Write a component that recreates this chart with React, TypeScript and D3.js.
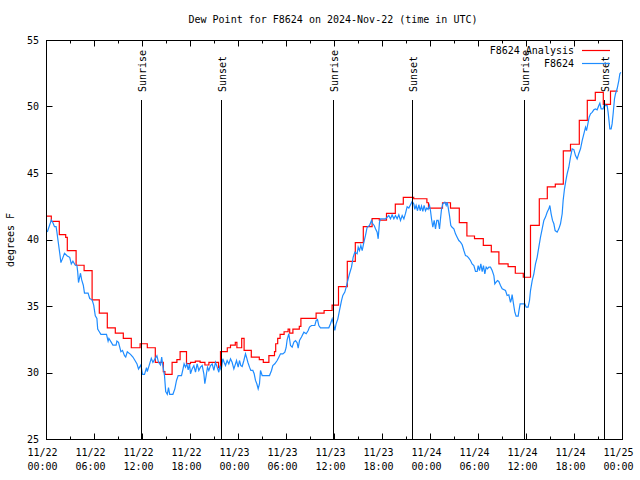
import React from 'react';
import * as d3 from 'd3';

const TITLE = 'Dew Point for F8624 on 2024-Nov-22 (time in UTC)';
const Y_LABEL = 'degrees F';
const Y_TICKS = [25, 30, 35, 40, 45, 50, 55];
const X_MAJOR_HOURS = [0, 6, 12, 18, 24, 30, 36, 42, 48, 54, 60, 66, 72];
const X_MINOR_HOURS = [3, 9, 15, 21, 27, 33, 39, 45, 51, 57, 63, 69];
const X_TICK_DATES = ['11/22', '11/22', '11/22', '11/22', '11/23', '11/23', '11/23', '11/23', '11/24', '11/24', '11/24', '11/24', '11/25'];
const X_TICK_TIMES = ['00:00', '06:00', '12:00', '18:00', '00:00', '06:00', '12:00', '18:00', '00:00', '06:00', '12:00', '18:00', '00:00'];
const SUN_HOURS = [11.9, 21.85, 35.9, 45.8, 59.8, 69.8];
const SUN_LABELS = ['Sunrise', 'Sunset', 'Sunrise', 'Sunset', 'Sunrise', 'Sunset'];
const SERIES_NAMES = ['F8624 Analysis', 'F8624'];
const SERIES_COLORS = ['#ff0000', '#1e8cff'];

// hours since 11/22 00:00 UTC, dew point (F) — hourly analysis (step)
const ANALYSIS: [number, number][] = [
  [0, 41.8], [0.6, 41.4], [1.6, 40.4], [2.4, 40.2], [2.6, 39.2], [3.7, 38.1], [4.7, 37.7],
  [5.7, 35.5], [6.6, 34.5], [7.6, 33.4], [8.6, 33.0], [9.6, 32.6], [10.6, 31.9], [11.7, 32.2],
  [12.6, 31.9], [13.6, 30.8], [14.6, 30.1], [14.8, 29.9], [15.7, 30.8], [16.3, 31.0], [16.7, 31.6],
  [17.5, 30.7], [18.0, 30.8], [18.6, 30.9], [19.2, 30.8], [19.8, 30.6], [20.3, 30.8], [21.5, 30.4],
  [21.75, 31.6], [22.6, 31.9], [23.0, 32.1], [23.6, 32.3], [23.8, 31.9], [24.4, 32.6], [24.7, 31.7],
  [25.6, 31.2], [26.6, 31.0], [27.1, 30.8], [27.8, 31.3], [28.5, 31.6], [28.65, 32.2], [28.9, 32.6],
  [29.2, 32.9], [29.7, 33.1], [30.2, 33.3], [30.4, 33.0], [30.8, 33.3], [31.6, 33.5], [31.8, 34.1],
  [33.7, 34.5], [34.7, 34.7], [35.7, 35.1], [36.5, 36.5], [37.6, 38.4], [38.6, 39.8], [39.6, 41.0],
  [40.7, 41.6], [41.6, 41.5], [42.5, 42.0], [43.6, 42.7], [44.6, 43.2], [45.9, 43.1], [47.55, 42.8],
  [47.75, 42.4], [49.5, 42.8], [50.5, 42.4], [51.6, 41.3], [52.55, 40.3], [53.5, 40.1], [54.6, 39.6],
  [55.6, 39.1], [56.55, 38.2], [57.7, 38.0], [58.6, 37.5], [59.6, 37.2], [60.5, 41.1], [61.6, 43.1],
  [62.6, 44.0], [63.6, 44.2], [64.6, 46.7], [65.5, 47.2], [66.6, 49.0], [67.6, 50.5], [68.6, 51.1],
  [69.6, 50.2], [70.5, 51.2], [71.4, 51.2],
];

// station observations
const OBSERVED: [number, number][] = [
  [0.1, 40.6], [0.6, 41.5], [0.8, 41.3], [1.0, 41.0], [1.2, 41.0], [1.3, 40.6], [1.5, 39.7], [1.7, 38.8],
  [1.8, 38.3], [2.0, 38.6], [2.25, 39.0], [2.6, 38.8], [2.9, 38.7], [3.1, 38.2], [3.3, 38.4], [3.6, 38.1],
  [3.8, 38.1], [3.9, 37.6], [4.0, 36.8], [4.25, 37.5], [4.4, 37.0], [4.6, 36.6], [4.75, 36.0], [5.2, 36.0],
  [5.4, 35.6], [5.7, 35.5], [5.9, 35.1], [6.1, 34.3], [6.3, 34.1], [6.4, 33.3], [6.6, 33.1], [6.8, 32.9],
  [7.5, 32.9], [7.7, 32.4], [7.8, 32.6], [8.1, 32.3], [8.3, 32.1], [8.7, 32.1], [8.8, 32.4], [9.0, 32.3],
  [9.3, 31.6], [9.5, 31.7], [9.75, 31.3], [9.9, 31.2], [10.1, 31.6], [10.5, 31.4], [10.8, 31.2], [11.1, 30.9],
  [11.3, 30.7], [11.5, 30.3], [11.6, 30.4], [11.8, 30.6], [12.0, 29.9], [12.25, 29.9], [12.5, 30.4],
  [12.6, 30.1], [12.9, 30.7], [13.1, 31.1], [13.3, 30.8], [13.6, 31.1], [13.8, 31.3], [14.0, 30.8],
  [14.25, 30.6], [14.4, 31.2], [14.5, 30.7], [14.75, 29.8], [14.9, 28.6], [15.1, 28.4], [15.25, 28.9],
  [15.4, 28.4], [15.8, 28.4], [16.04, 28.81], [16.25, 29.44], [16.46, 29.81], [16.875, 29.81], [17.04, 30.24],
  [17.2, 30.69], [17.375, 30.44], [17.54, 30.69], [17.71, 30.24], [17.875, 30.69], [18.0, 29.94], [18.2, 30.31],
  [18.42, 30.56], [18.625, 30.06], [18.83, 30.69], [19.04, 30.19], [19.25, 30.44], [19.46, 30.56], [19.67, 29.94],
  [19.79, 29.19], [19.96, 29.81], [20.125, 30.44], [20.29, 30.19], [20.5, 30.56], [20.71, 30.69], [20.92, 30.19],
  [21.125, 30.81], [21.33, 30.44], [21.54, 30.06], [21.67, 30.56], [21.83, 30.19], [22.04, 31.07], [22.2, 30.81],
  [22.375, 30.56], [22.58, 30.94], [22.79, 30.69], [23.0, 31.07], [23.2, 30.81], [23.42, 30.31], [23.625, 30.69],
  [23.75, 30.94], [23.96, 30.44], [24.125, 30.94], [24.29, 30.56], [24.46, 30.49], [24.67, 30.94], [24.875, 31.44],
  [25.0, 31.19], [25.17, 30.81], [25.375, 30.44], [25.54, 30.19], [25.79, 30.19], [25.96, 29.94], [26.125, 29.44],
  [26.29, 29.19], [26.46, 28.81], [26.625, 29.19], [26.75, 30.19], [26.96, 29.81], [27.875, 29.81], [28.125, 30.19],
  [28.29, 30.56], [28.54, 30.69], [28.83, 30.94], [29.04, 31.19], [29.25, 31.44], [29.54, 31.44], [29.79, 31.57],
  [29.95, 31.9], [30.08, 32.5], [30.29, 32.95], [30.5, 32.07], [30.71, 31.94], [30.92, 32.32], [31.125, 32.44],
  [31.33, 32.27], [31.46, 31.87], [31.625, 32.44], [31.875, 32.7], [32.17, 33.07], [32.46, 32.95], [32.71, 33.2],
  [32.875, 33.45], [33.125, 33.57], [33.54, 33.57], [33.71, 33.95], [33.875, 34.02], [34.04, 33.57], [34.25, 33.4],
  [35.29, 33.4], [35.5, 33.7], [35.71, 34.07], [35.92, 33.57], [36.04, 33.2], [36.2, 33.7], [36.42, 34.07],
  [36.625, 34.7], [36.875, 35.45], [37.04, 35.83], [37.29, 36.08], [37.46, 36.45], [37.71, 37.08], [37.875, 37.46],
  [38.125, 37.96], [38.33, 38.7], [38.54, 39.08], [38.83, 38.96], [38.96, 39.46], [39.125, 39.2], [39.29, 39.59],
  [39.46, 39.2], [39.67, 39.83], [39.875, 40.34], [40.08, 40.96], [40.375, 41.09], [40.625, 41.47], [40.79, 41.22],
  [40.96, 41.09], [41.125, 40.84], [41.33, 40.59], [41.46, 40.09], [41.625, 41.34], [41.75, 41.59], [42.375, 41.59],
  [42.58, 41.71], [42.79, 41.84], [43.0, 41.59], [43.2, 41.89], [43.42, 41.59], [43.625, 41.84], [43.83, 41.59],
  [44.04, 41.89], [44.25, 41.47], [44.46, 41.84], [44.67, 41.59], [44.875, 42.0], [45.08, 42.5], [45.29, 42.4],
  [45.5, 42.65], [45.71, 42.9], [45.92, 42.7], [46.04, 42.3], [46.2, 42.6], [46.375, 42.2], [46.54, 42.65],
  [46.71, 42.2], [46.875, 42.55], [47.04, 42.15], [47.2, 42.6], [47.375, 42.2], [47.54, 42.4], [47.7, 42.3],
  [47.875, 42.6], [48.0, 42.2], [48.125, 41.6], [48.29, 40.96], [48.46, 41.47], [48.625, 40.84], [48.79, 41.47],
  [48.96, 41.47], [49.125, 40.84], [49.25, 41.6], [49.375, 42.3], [49.54, 42.72], [49.79, 42.84], [49.96, 42.6],
  [50.08, 42.84], [50.2, 42.47], [50.375, 41.84], [50.54, 41.09], [50.7, 40.96], [50.92, 40.84], [51.125, 40.46],
  [51.33, 40.21], [51.54, 39.96], [51.75, 39.84], [51.96, 39.64], [52.17, 39.21], [52.375, 38.83], [52.58, 38.78],
  [52.79, 38.63], [53.0, 38.46], [53.2, 38.2], [53.42, 38.08], [53.625, 37.63], [53.83, 37.63], [53.96, 38.08],
  [54.125, 37.7], [54.29, 38.2], [54.46, 37.63], [54.625, 38.08], [54.79, 37.46], [54.96, 37.96], [55.125, 37.83],
  [55.29, 37.96], [55.5, 37.96], [55.71, 37.7], [55.92, 37.33], [56.04, 36.7], [56.2, 36.83], [56.375, 36.95],
  [56.54, 36.88], [56.75, 36.58], [56.96, 36.33], [57.375, 36.2], [57.58, 35.83], [57.79, 35.88], [58.0, 35.32],
  [58.125, 35.58], [58.2, 35.9], [58.375, 35.2], [58.54, 34.57], [58.7, 34.27], [58.96, 34.27], [59.04, 34.62],
  [59.2, 35.2], [59.79, 35.2], [59.96, 34.95], [60.2, 34.95], [60.375, 35.45], [60.5, 36.2], [60.71, 36.95],
  [60.92, 37.46], [61.125, 38.2], [61.33, 38.7], [61.54, 39.46], [61.75, 40.21], [61.96, 40.84], [62.17, 41.47],
  [62.375, 41.72], [62.58, 42.09], [62.79, 42.34], [62.92, 42.59], [63.08, 41.97], [63.25, 41.47], [63.42, 41.22],
  [63.58, 40.71], [63.83, 40.59], [64.04, 40.84], [64.25, 41.22], [64.46, 41.97], [64.58, 42.97], [64.75, 43.85],
  [64.92, 44.47], [65.08, 44.98], [65.29, 45.47], [65.5, 46.23], [65.71, 46.86], [65.92, 46.8], [66.125, 46.35],
  [66.33, 46.1], [66.54, 46.5], [66.75, 46.86], [66.96, 47.48], [67.17, 47.98], [67.375, 48.48], [67.5, 48.23],
  [67.67, 48.73], [67.83, 49.23], [68.0, 49.49], [68.2, 49.6], [68.42, 49.79], [68.625, 49.86], [68.83, 49.79],
  [69.04, 50.11], [69.17, 50.29], [69.33, 49.86], [69.58, 49.86], [69.75, 50.24], [69.875, 50.11], [70.08, 50.11],
  [70.2, 49.61], [70.42, 48.36], [70.58, 48.36], [70.7, 48.73], [70.83, 49.49], [71.0, 50.62], [71.125, 51.0],
  [71.33, 51.37], [71.54, 51.99], [71.67, 52.5], [71.8, 52.6],
];

const W = 640;
const H = 480;
const LEFT = 46.5;
const RIGHT = 622.5;
const TOP = 40.5;
const BOTTOM = 439.5;
const FONT = '"DejaVu Sans Mono", "Liberation Mono", monospace';

export default function App() {
  const x = d3.scaleLinear().domain([0, 72]).range([LEFT, RIGHT]);
  const y = d3.scaleLinear().domain([25, 55]).range([BOTTOM, TOP]);

  const stepLine = d3
    .line<[number, number]>()
    .x((d) => x(d[0]))
    .y((d) => y(d[1]))
    .curve(d3.curveStepAfter);
  const obsLine = d3
    .line<[number, number]>()
    .x((d) => x(d[0]))
    .y((d) => y(d[1]));

  return (
    <svg
      width={W}
      height={H}
      viewBox={`0 0 ${W} ${H}`}
      style={{ position: 'absolute', left: 0, top: 0, background: '#fff', fontFamily: FONT }}
    >
      <rect x={0} y={0} width={W} height={H} fill="#fff" />
      <defs>
        <clipPath id="plot-clip">
          <rect x={LEFT} y={TOP} width={RIGHT - LEFT} height={BOTTOM - TOP} />
        </clipPath>
      </defs>

      {/* title */}
      <text x={333} y={20} textAnchor="middle" dominantBaseline="middle" fontSize={10} fill="#000">
        {TITLE}
      </text>

      {/* y label */}
      <text
        transform={`translate(11, ${(TOP + BOTTOM) / 2}) rotate(-90)`}
        textAnchor="middle"
        dominantBaseline="middle"
        fontSize={10}
        fill="#000"
      >
        {Y_LABEL}
      </text>

      {/* y ticks */}
      {Y_TICKS.map((t) => (
        <g key={`yt${t}`}>
          <line x1={LEFT} x2={LEFT + 6} y1={Math.round(y(t) - 0.5) + 0.5} y2={Math.round(y(t) - 0.5) + 0.5} stroke="#000" />
          <line x1={RIGHT} x2={RIGHT - 6} y1={Math.round(y(t) - 0.5) + 0.5} y2={Math.round(y(t) - 0.5) + 0.5} stroke="#000" />
          <text x={39} y={y(t)} textAnchor="end" dominantBaseline="middle" fontSize={10} fill="#000">
            {t}
          </text>
        </g>
      ))}

      {/* x ticks */}
      {X_MAJOR_HOURS.map((h, i) => (
        <g key={`xt${h}`}>
          <line x1={x(h)} x2={x(h)} y1={BOTTOM} y2={BOTTOM - 6} stroke="#000" />
          <line x1={x(h)} x2={x(h)} y1={TOP} y2={TOP + 6} stroke="#000" />
          <text x={x(h) - 4} y={453} textAnchor="middle" dominantBaseline="middle" fontSize={10} fill="#000">
            {X_TICK_DATES[i]}
          </text>
          <text x={x(h) - 4} y={467} textAnchor="middle" dominantBaseline="middle" fontSize={10} fill="#000">
            {X_TICK_TIMES[i]}
          </text>
        </g>
      ))}
      {X_MINOR_HOURS.map((h) => (
        <g key={`xm${h}`}>
          <line x1={x(h)} x2={x(h)} y1={BOTTOM} y2={BOTTOM - 3} stroke="#000" />
          <line x1={x(h)} x2={x(h)} y1={TOP} y2={TOP + 3} stroke="#000" />
        </g>
      ))}

      {/* data */}
      <g clipPath="url(#plot-clip)">
        <path d={stepLine(ANALYSIS) || ''} fill="none" stroke={SERIES_COLORS[0]} strokeWidth={1.2} />
        <path d={obsLine(OBSERVED) || ''} fill="none" stroke={SERIES_COLORS[1]} strokeWidth={1.2} />
      </g>

      {/* sunrise / sunset */}
      {SUN_HOURS.map((h, i) => {
        const sx = Math.round(x(h) - 0.5) + 0.5;
        return (
          <g key={`sun${i}`}>
            <line x1={sx} x2={sx} y1={100} y2={BOTTOM} stroke="#000" />
            <text
              transform={`translate(${sx + 4}, 92) rotate(-90)`}
              textAnchor="start"
              fontSize={10}
              fill="#000"
            >
              {SUN_LABELS[i]}
            </text>
          </g>
        );
      })}

      {/* legend */}
      {SERIES_NAMES.map((name, i) => {
        const ly = 50.5 + i * 13;
        return (
          <g key={`lg${i}`}>
            <text x={574} y={ly} textAnchor="end" dominantBaseline="middle" fontSize={10} fill="#000">
              {name}
            </text>
            <line x1={582} x2={610} y1={ly} y2={ly} stroke={SERIES_COLORS[i]} strokeWidth={1.2} />
          </g>
        );
      })}

      {/* border */}
      <rect x={LEFT} y={TOP} width={RIGHT - LEFT} height={BOTTOM - TOP} fill="none" stroke="#000" />
    </svg>
  );
}
